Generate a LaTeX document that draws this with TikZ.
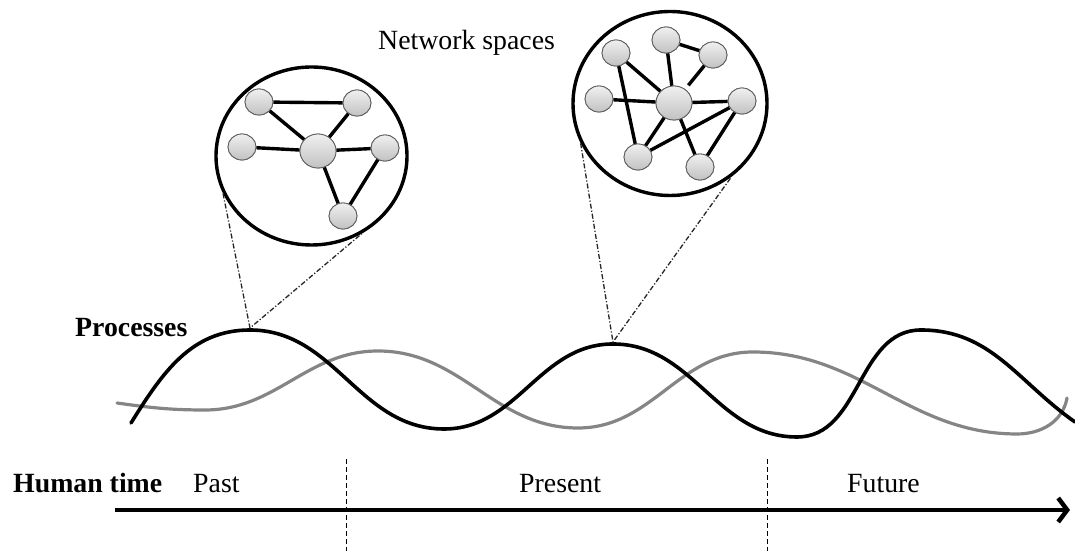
\documentclass[tikz,border=0pt]{standalone}
\usepackage{fontspec}
\setmainfont{Liberation Serif}
\usetikzlibrary{shapes.geometric,arrows.meta}
\begin{document}
\begin{tikzpicture}[x=1bp,y=1bp,
  lbl/.style={anchor=base west,inner sep=0pt,font=\fontsize{27.8bp}{32bp}\selectfont},
  blbl/.style={lbl,font=\fontsize{27.8bp}{32bp}\selectfont\bfseries},
  space/.style={ellipse,draw=black,line width=3.4bp,inner sep=0pt},
  vert/.style={ellipse,draw=black!65,line width=0.8bp,inner sep=0pt,
    top color=gray!12,bottom color=gray!48,minimum width=28bp,minimum height=26bp},
  hub/.style={vert,minimum width=36bp,minimum height=34bp},
  link/.style={line width=3.4bp,black},
  zoomline/.style={line width=1.3bp,black!85,dash pattern=on 5bp off 2bp on 1.2bp off 2bp},
  proc/.style={line width=3.6bp,black,line cap=round},
  proc2/.style={line width=3.2bp,color=black!48,line cap=round},
  divider/.style={line width=0.8bp,black,dash pattern=on 5bp off 3bp}]
\useasboundingbox (0,0) rectangle (1075,553);

% labels
\node[lbl]  (ns)   at (378,503) {Network spaces};
\node[blbl] (proc) at (75,216)  {Processes};
\node[blbl] (ht)   at (13,60)   {Human time};
\node[lbl]  (past) at (193,60)  {Past};
\node[lbl]  (pres) at (519,60)  {Present};
\node[lbl]  (fut)  at (847,60)  {Future};

% time axis and period dividers
\coordinate (t0) at (115,43);
\coordinate (t1) at (1070,43);
\draw[line width=4.5bp,-{Straight Barb[length=9bp,width=24bp]}] (t0) -- (t1);
\coordinate (d1a) at (346,94); \coordinate (d1b) at (346,2);
\coordinate (d2a) at (767,94); \coordinate (d2b) at (767,2);
\draw[divider] (d1a) -- (d1b);
\draw[divider] (d2a) -- (d2b);

% process curves
\draw[proc2] (117,150) to[out=-8,in=180] (205,143) to[out=0,in=180] (378,202)
  to[out=0,in=180] (578,125) to[out=0,in=180] (753,201)
  to[out=0,in=180] (1017,119) to[out=0,in=-100] (1067,155);
\draw[proc] (131,130) to[out=58,in=180] (250,223) to[out=0,in=180] (444,124)
  to[out=0,in=180] (613,209) to[out=0,in=180] (797,116)
  to[out=0,in=180] (921,223) to[out=0,in=145] (1075,131);
\coordinate (p1) at (250,225);
\coordinate (p2) at (613,211);

% first network space
\node[space,minimum width=191bp,minimum height=178bp] (s1) at (311.5,397) {};
\node[vert] (a1) at (259,451) {};
\node[vert] (a2) at (357,450) {};
\node[vert] (a3) at (242,406) {};
\node[hub]  (a0) at (318,402) {};
\node[vert] (a4) at (385,405) {};
\node[vert] (a5) at (343,337) {};
\draw[link] (a1) -- (a2);
\draw[link] (a1) -- (a0);
\draw[link] (a2) -- (a0);
\draw[link] (a3) -- (a0);
\draw[link] (a0) -- (a4);
\draw[link] (a0) -- (a5);
\draw[link] (a4) -- (a5);
\foreach \n in {a1,a2,a3,a4,a5}{\node[vert] at (\n) {};}
\node[hub] at (a0) {};

% second network space
\node[space,minimum width=194bp,minimum height=184bp] (s2) at (670,449.5) {};
\node[vert] (b1) at (666,513) {};
\node[vert] (b2) at (713,498) {};
\node[vert] (b3) at (616,500) {};
\node[vert] (b4) at (599,454) {};
\node[hub]  (b0) at (674,450) {};
\node[vert] (b5) at (742,452) {};
\node[vert] (b6) at (638,396) {};
\node[vert] (b7) at (700,386) {};
\draw[link] (b1) -- (b2);
\draw[link] (b1) -- (b0);
\draw[link,shorten >=5bp] (b2) -- (b0);
\draw[link] (b3) -- (b0);
\draw[link] (b3) -- (b6);
\draw[link] (b4) -- (b0);
\draw[link] (b0) -- (b5);
\draw[link] (b0) -- (b6);
\draw[link] (b0) -- (b7);
\draw[link] (b5) -- (b6);
\draw[link] (b5) -- (b7);
\foreach \n in {b1,b2,b3,b4,b5,b6,b7}{\node[vert] at (\n) {};}
\node[hub] at (b0) {};

% zoom lines from curve peaks to the network spaces
\draw[zoomline] (s1.203) -- (p1) -- (s1.303);
\draw[zoomline] (s2.204) -- (p2) -- (s2.310);
\end{tikzpicture}
\end{document}
